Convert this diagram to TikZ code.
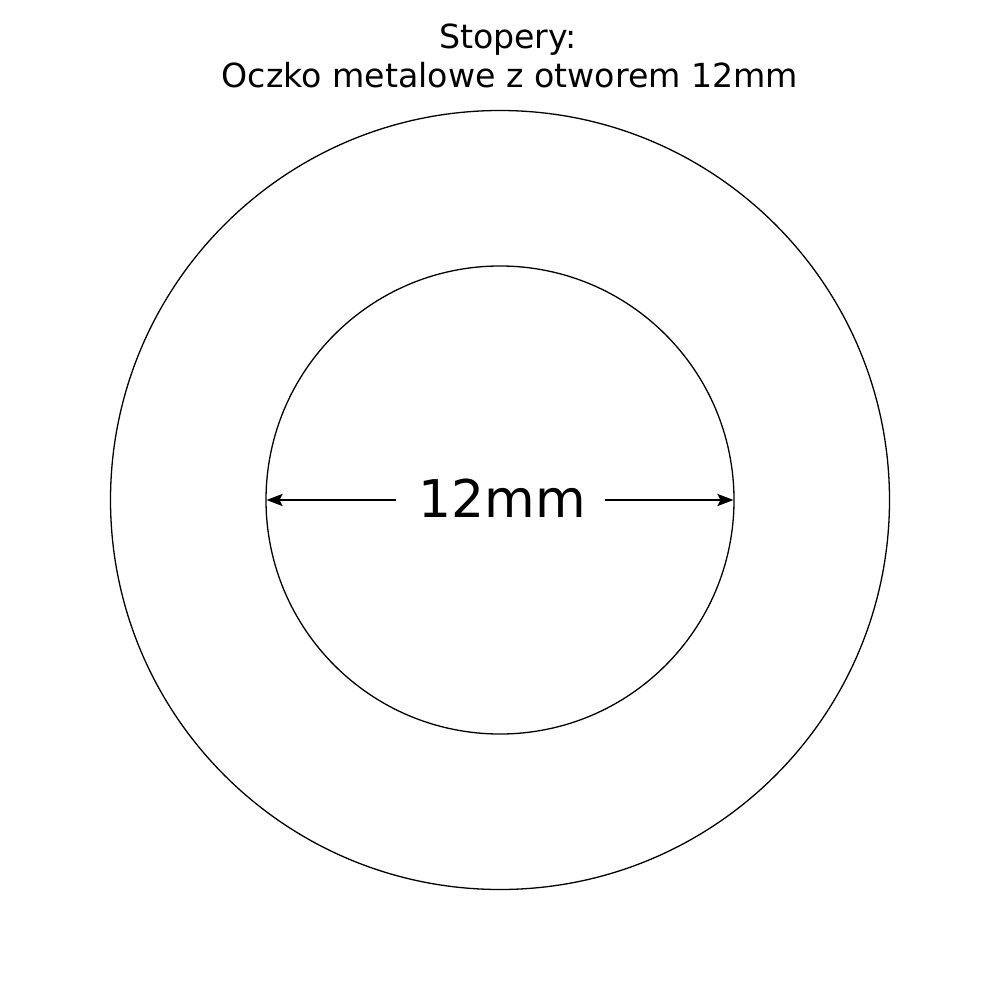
\documentclass[tikz,border=0pt]{standalone}
\usepackage{fontspec}
\setmainfont{DejaVu Sans}
\usetikzlibrary{arrows.meta}
\begin{document}
\begin{tikzpicture}[x=1pt,y=-1pt,
  ring/.style={draw=black,line width=1.3pt},
  dim/.style={draw=black,line width=2.4pt,-{Stealth[length=16pt,width=12pt,inset=3pt]}},
  title/.style={font=\fontsize{33.2}{39}\selectfont,align=center,inner sep=0pt}]
\useasboundingbox (0,0) rectangle (1000,1000);
\fill[white] (0,0) rectangle (1000,1000);
\coordinate (c) at (500,500);
\draw[ring] (c) circle (389.5);
\draw[ring] (c) circle (234);
\node[title,anchor=base] (t1) at (508,49) {Stopery:};
\node[title,anchor=base] (t2) at (510,88) {Oczko metalowe z otworem 12mm};
\node[font=\fontsize{52}{60}\selectfont,inner sep=0pt,anchor=base] (lbl) at (502,517) {12mm};
\coordinate (gl) at (396,500);
\coordinate (gr) at (605,500);
\coordinate (al) at (266.5,500);
\coordinate (ar) at (733.5,500);
\draw[dim] (gl) -- (al);
\draw[dim] (gr) -- (ar);
\end{tikzpicture}
\end{document}
